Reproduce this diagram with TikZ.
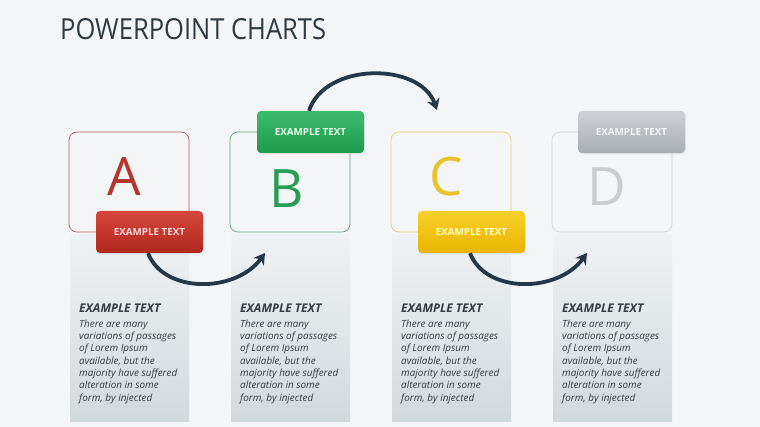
\documentclass[tikz,border=0pt]{standalone}
\usepackage{fontspec}
\setmainfont{Open Sans}
\usetikzlibrary{arrows.meta,shadows}
\definecolor{bg}{HTML}{F3F5F7}
\definecolor{titlec}{HTML}{2E3A40}
\definecolor{arrc}{HTML}{263747}
\definecolor{txtc}{HTML}{353D44}
\definecolor{colTop}{HTML}{EFF2F4}
\definecolor{colBot}{HTML}{D2D9DD}
\definecolor{redT}{HTML}{D4463B}\definecolor{redB}{HTML}{B2281E}
\definecolor{grnT}{HTML}{3CBB6E}\definecolor{grnB}{HTML}{1E9A4C}
\definecolor{yelT}{HTML}{F7D02A}\definecolor{yelB}{HTML}{E9B500}
\definecolor{gryT}{HTML}{CDD1D6}\definecolor{gryB}{HTML}{A9AEB4}
\definecolor{redL}{HTML}{B5372C}\definecolor{grnL}{HTML}{2A9D55}
\definecolor{yelL}{HTML}{E8C228}\definecolor{gryL}{HTML}{C8CDD1}
\definecolor{redO}{HTML}{A8645C}\definecolor{grnO}{HTML}{6AA884}
\definecolor{yelO}{HTML}{E6CF78}\definecolor{gryO}{HTML}{D0D4D8}
\begin{document}
\begin{tikzpicture}[x=1pt,y=-1pt,
  box/.style={draw, line width=0.7pt, rounded corners=8pt, minimum width=120pt, minimum height=100pt, inner sep=0pt},
  lab/.style={rounded corners=4pt, minimum width=107pt, minimum height=42pt, inner sep=0pt,
     font=\fontsize{9.8}{10}\selectfont\bfseries,
     drop shadow={opacity=0.18, shadow xshift=0.5pt, shadow yshift=-1.2pt}},
  col/.style={minimum width=119pt, minimum height=186pt, inner sep=0pt, top color=colTop, bottom color=colBot},
  big/.style={inner sep=0pt, font=\fontsize{53}{53}\selectfont},
  head/.style={inner sep=0pt, anchor=base west, text=txtc, font=\fontsize{12}{14}\selectfont\bfseries\itshape},
  body/.style={inner sep=0pt, anchor=north west, align=left, text=txtc, font=\fontsize{9.9}{12.3}\selectfont\itshape},
  arr/.style={line width=3.8pt, draw=arrc, -{Stealth[length=11pt,width=13pt]}}
]
\useasboundingbox (0,0) rectangle (760,427);
\fill[bg] (0,0) rectangle (760,427);
\node[inner sep=0pt, anchor=base west, text=titlec, font=\fontsize{29}{30}\selectfont] (title) at (60,40) {\scalebox{0.88}[1]{POWERPOINT CHARTS}};

% columns
\node[col] (colA) at (129.5,328) {};
\node[col] (colB) at (290.5,328) {};
\node[col] (colC) at (451.5,328) {};
\node[col] (colD) at (612.5,328) {};

% boxes
\node[box, draw=redO] (boxA) at (129,182) {};
\node[box, draw=grnO] (boxB) at (290,182) {};
\node[box, draw=yelO] (boxC) at (451,182) {};
\node[box, draw=gryO] (boxD) at (612,182) {};

% letters
\node[big, text=redL] (letA) at (124.5,177) {A};
\node[big, text=grnL] (letB) at (287,188.5) {B};
\node[big, text=yelL] (letC) at (446,177) {C};
\node[big, text=gryL] (letD) at (607,186.5) {D};

% labels
\node[lab, top color=redT, bottom color=redB, text=red!15!white] (labA) at (149.5,232) {EXAMPLE TEXT};
\node[lab, top color=grnT, bottom color=grnB, text=green!8!white] (labB) at (310.5,132) {EXAMPLE TEXT};
\node[lab, top color=yelT, bottom color=yelB, text=yellow!25!white] (labC) at (471.5,232) {EXAMPLE TEXT};
\node[lab, top color=gryT, bottom color=gryB, text=white!92!gray] (labD) at (631.5,132) {EXAMPLE TEXT};

% column texts
\foreach \n/\x in {A/79,B/240,C/401,D/562}{
  \node[head] (head\n) at (\x,313) {EXAMPLE TEXT};
  \node[body] (body\n) at (\x,319.5) {There are many\\variations of passages\\of Lorem Ipsum\\available, but the\\majority have suffered\\alteration in some\\form, by injected};
}

% arrows
\coordinate (endA) at (265,253);
\coordinate (endB) at (437,110);
\coordinate (endC) at (587,253);
\draw[arr] ([xshift=-1.5pt]labA.south) .. controls (164,294) and (236,293) .. (endA);
\draw[arr] ([xshift=-1.5pt]labB.north) .. controls (325,62) and (420,62) .. (endB);
\draw[arr] ([xshift=-1.5pt]labC.south) .. controls (486,294) and (558,293) .. (endC);
\end{tikzpicture}
\end{document}
